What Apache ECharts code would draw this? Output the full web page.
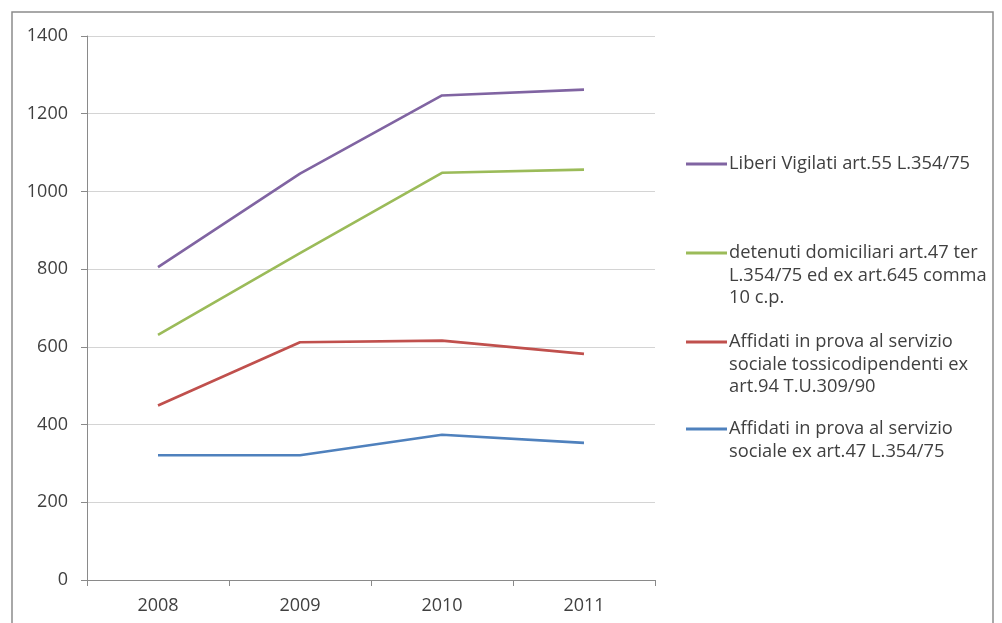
<!DOCTYPE html>
<html>
<head>
<meta charset="utf-8">
<script src="https://cdn.jsdelivr.net/npm/echarts@6/dist/echarts.min.js"></script>
<style>
html,body{margin:0;padding:0;background:#fff;}
#c{width:1002px;height:623px;}
</style>
</head>
<body>
<div id="c"></div>
<script>
var categories = ['2008', '2009', '2010', '2011'];
var yTicks = [0, 200, 400, 600, 800, 1000, 1200, 1400];
var seriesNames = [
  'Liberi Vigilati art.55 L.354/75',
  'detenuti domiciliari art.47 ter L.354/75 ed ex art.645 comma 10 c.p.',
  'Affidati in prova al servizio sociale tossicodipendenti ex art.94 T.U.309/90',
  'Affidati in prova al servizio sociale ex art.47 L.354/75'
];
var legendLines = [
  ['Liberi Vigilati art.55 L.354/75'],
  ['detenuti domiciliari art.47 ter', 'L.354/75 ed ex art.645 comma', '10 c.p.'],
  ['Affidati in prova al servizio', 'sociale tossicodipendenti ex', 'art.94 T.U.309/90'],
  ['Affidati in prova al servizio', 'sociale ex art.47 L.354/75']
];
var liberiVigilati = [805, 1046, 1247, 1262];
var detenutiDomiciliari = [631, 841, 1048, 1056];
var affidatiTossico = [449, 612, 616, 582];
var affidatiServizio = [321, 321, 374, 353];
var colors = ['#8064A2', '#9BBB59', '#C0504D', '#4F81BD'];
var seriesData = [liberiVigilati, detenutiDomiciliari, affidatiTossico, affidatiServizio];

var legendFirstLineY = [164, 253, 342, 429];
var lh = 22.5;
var font = '"Open Sans", "Noto Sans", sans-serif';

var legends = seriesNames.map(function (name, i) {
  var n = legendLines[i].length;
  var blockLines = 2 * n - 1;
  return {
    data: [name],
    orient: 'vertical',
    left: 686,
    top: legendFirstLineY[i] - (blockLines * lh) / 2,
    padding: 0,
    itemWidth: 41,
    itemHeight: 3,
    itemGap: 0,
    icon: 'rect',
    selectedMode: false,
    textStyle: { fontFamily: font, fontSize: 18.3, color: '#404040', lineHeight: lh, padding: [0, 0, 0, -3] },
    formatter: function () {
      var pre = [];
      for (var k = 0; k < n - 1; k++) pre.push(' ');
      return pre.concat(legendLines[i]).join('\n');
    }
  };
});

var chart = echarts.init(document.getElementById('c'));
chart.setOption({
  animation: false,
  backgroundColor: '#fff',
  graphic: [{
    type: 'rect',
    shape: { x: 12, y: 12, width: 981, height: 640 },
    style: { fill: 'none', stroke: '#8c8c8c', lineWidth: 1.5 },
    silent: true,
    z: -1
  }],
  legend: legends,
  grid: { left: 87, right: 347, top: 36, bottom: 43, containLabel: false },
  xAxis: {
    type: 'category',
    data: categories,
    boundaryGap: true,
    axisLine: { show: true, lineStyle: { color: '#8a8a8a', width: 1 } },
    axisTick: { show: true, length: 6, alignWithLabel: false, lineStyle: { color: '#8a8a8a' } },
    axisLabel: { margin: 17, fontFamily: font, fontSize: 18, color: '#404040' },
    splitLine: { show: false }
  },
  yAxis: {
    type: 'value',
    min: yTicks[0],
    max: yTicks[yTicks.length - 1],
    interval: 200,
    axisLine: { show: true, lineStyle: { color: '#8a8a8a', width: 1 } },
    axisTick: { show: true, length: 6, lineStyle: { color: '#8a8a8a' } },
    axisLabel: { margin: 19, fontFamily: font, fontSize: 18, color: '#404040', formatter: function (v) { return String(v); } },
    splitLine: { show: true, lineStyle: { color: '#d4d4d4', width: 1.2 } }
  },
  series: seriesNames.map(function (name, i) {
    return {
      name: name,
      type: 'line',
      data: seriesData[i],
      color: colors[i],
      symbol: 'none',
      showSymbol: false,
      lineStyle: { width: 2.6, color: colors[i] },
      itemStyle: { color: colors[i] }
    };
  })
});
</script>
</body>
</html>
